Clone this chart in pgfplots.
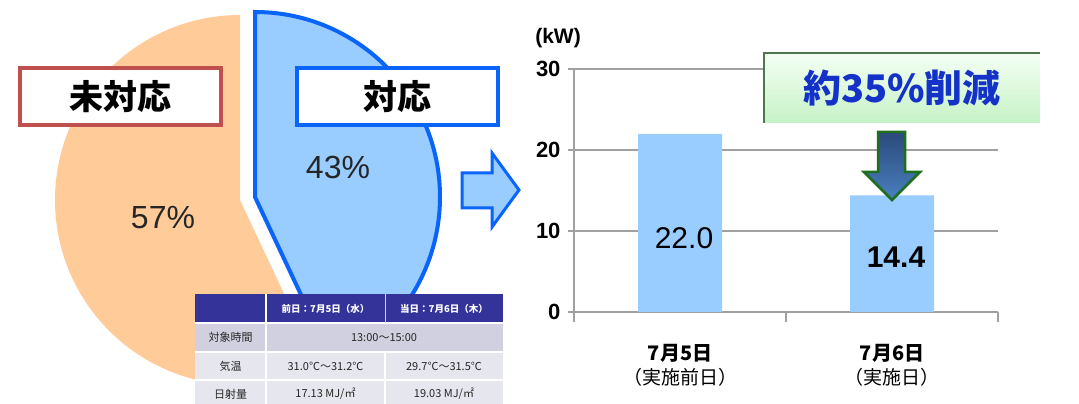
\documentclass[border=0pt]{standalone}
\usepackage{pgfplots}
\pgfplotsset{compat=1.18}
\usepackage{fontspec}
\setmainfont{Liberation Sans}
\newfontfamily\jp{Noto Sans CJK JP}
\definecolor{pieorange}{HTML}{FFCC99}
\definecolor{pieblue}{HTML}{99CCFF}
\definecolor{blueedge}{HTML}{0A64FA}
\definecolor{redbox}{HTML}{C0504D}
\definecolor{axisgray}{HTML}{A0A0A0}
\definecolor{thead}{HTML}{333399}
\definecolor{trowA}{HTML}{D0D0E0}
\definecolor{trowB}{HTML}{E6E6EE}
\definecolor{ttext}{HTML}{262626}
\definecolor{calloutblue}{HTML}{1432C8}
\definecolor{arrowgreen}{HTML}{1E6E1E}
\definecolor{calloutA}{HTML}{F4FFF4}
\definecolor{calloutB}{HTML}{C6F2C6}
\definecolor{arrowA}{HTML}{2A4A7A}
\definecolor{arrowB}{HTML}{4A80C0}

\def\pctNo{57}
\def\pctYes{43}

\begin{document}
\begin{tikzpicture}
\clip (0,0) rectangle (1079pt,404pt);
\useasboundingbox (0,0) rectangle (1079pt,404pt);
\pgfmathsetmacro\endO{90+3.6*\pctNo}
\pgfmathsetmacro\endB{90-3.6*\pctYes}
% ---------- pie ----------
\begin{axis}[at={(0pt,0pt)}, anchor=south west, scale only axis, width=1079pt, height=404pt,
  xmin=0, xmax=1079, ymin=0, ymax=404, y dir=reverse, hide axis, clip=false, enlargelimits=false]
  \fill[pieorange] (axis cs:240,200) -- ++(90:185pt) arc[start angle=90, end angle=\endO, radius=185pt] -- cycle;
  \filldraw[fill=pieblue, draw=blueedge, line width=4pt] (axis cs:255,197) -- ++(90:185pt) arc[start angle=90, end angle=\endB, radius=185pt] -- cycle;
  \node[font=\fontsize{32}{38}\selectfont, text=ttext] at (axis cs:163,218) {\pctNo\%};
  \node[font=\fontsize{32}{38}\selectfont, text=ttext] at (axis cs:338,167) {\pctYes\%};
\end{axis}
% ---------- decorations (image coordinates) ----------
\begin{scope}[x=1pt,y=-1pt,yshift=404pt]
  \draw[redbox, line width=3.5pt, fill=white] (20,68) rectangle (221,125);
  \node[font=\jp\bfseries\fontsize{34}{40}\selectfont] at (120.5,97) {未対応};
  \draw[blueedge, line width=3.5pt, fill=white] (297,68) rectangle (498,125);
  \node[font=\jp\bfseries\fontsize{34}{40}\selectfont] at (397.5,97) {対応};
  % right arrow
  \filldraw[fill=pieblue, draw=blueedge, line width=3pt, line join=miter]
    (462,173) -- (492,173) -- (492,153) -- (519,190) -- (492,227) -- (492,208) -- (462,208) -- cycle;
  % table
  \fill[thead] (195,294) rectangle (503,323);
  \fill[trowA] (195,323) rectangle (503,352);
  \fill[trowB] (195,352) rectangle (503,410);
  \draw[white, line width=1.5pt] (266,294) -- (266,410) (385,352) -- (385,410)
     (195,323) -- (503,323) (195,352) -- (503,352) (195,380) -- (503,380);
  \draw[trowA, line width=1pt] (385,294) -- (385,323);
  \begin{scope}[every node/.style={font=\jp\bfseries\fontsize{9.5}{11}\selectfont, text=white}]
    \node at (325.5,308.5) {前日：7月5日（水）};
    \node at (444,308.5) {当日：7月6日（木）};
  \end{scope}
  \begin{scope}[every node/.style={font=\jp\fontsize{11}{13}\selectfont, text=ttext}]
    \node at (230.5,337.5) {対象時間};
    \node at (384,337.5) {13:00～15:00};
    \node at (230.5,366) {気温};
    \node at (325.5,366) {31.0℃～31.2℃};
    \node at (444,366) {29.7℃～31.5℃};
    \node at (230.5,394) {日射量};
    \node at (325.5,394) {17.13 MJ/㎡};
    \node at (444,394) {19.03 MJ/㎡};
  \end{scope}
  \node[font=\bfseries\fontsize{21}{25}\selectfont] at (558,38) {(kW)};
\end{scope}
% ---------- bar chart ----------
\begin{axis}[at={(574pt,92pt)}, anchor=south west, scale only axis, width=424pt, height=243pt,
  xmin=0.5, xmax=2.5, ymin=0, ymax=30, clip=false,
  axis x line*=bottom, axis y line*=left,
  axis line style={draw=axisgray, line width=1.2pt, -},
  ybar, bar width=84pt,
  xtick={1,2},
  xticklabels={{\bfseries\fontsize{20}{24}\selectfont 7月5日}\\{\fontsize{19}{24}\selectfont（実施前日）},
               {\bfseries\fontsize{20}{24}\selectfont 7月6日}\\{\fontsize{19}{24}\selectfont（実施日）}},
  xticklabel style={align=center, font=\jp\fontsize{20}{24}\selectfont, yshift=-23pt},
  x tick style={draw=none},
  ytick={0,10,20,30}, ymajorgrids, grid style={draw=axisgray, line width=1.2pt},
  y tick style={draw=axisgray, line width=1.2pt}, major tick length=6pt, tick align=outside,
  yticklabel style={font=\bfseries\fontsize{22}{26}\selectfont, xshift=-4pt},
  /pgf/number format/assume math mode=true,
]
\addplot[fill=pieblue, draw=none] coordinates {(1,22.0) (2,14.4)};
\draw[axisgray, line width=1.2pt] (axis cs:0.5,0) -- ++(0pt,-10pt) (axis cs:1.5,0) -- ++(0pt,-10pt) (axis cs:2.5,0) -- ++(0pt,-10pt);
\node[font=\fontsize{30}{36}\selectfont, xshift=4pt] at (axis cs:1,9.1) {22.0};
\node[font=\bfseries\fontsize{30}{36}\selectfont, xshift=4pt] at (axis cs:2,6.8) {14.4};
\end{axis}
% ---------- callout and down arrow ----------
\begin{scope}[x=1pt,y=-1pt,yshift=404pt]
  \shade[top color=calloutA, bottom color=calloutB] (764,53) rectangle (1040,123);
  \draw[color=arrowgreen!50!gray, line width=2pt] (764,123) -- (764,53) -- (1040,53);
  \node[font=\jp\bfseries\fontsize{38}{44}\selectfont, text=calloutblue] at (902,88) {約35\%削減};
  \shadedraw[top color=arrowA, bottom color=arrowB, draw=arrowgreen, line width=2.5pt, line join=miter]
    (878,132) -- (905,132) -- (905,172) -- (920,172) -- (892,200) -- (864,172) -- (878,172) -- cycle;
\end{scope}
\end{tikzpicture}
\end{document}
